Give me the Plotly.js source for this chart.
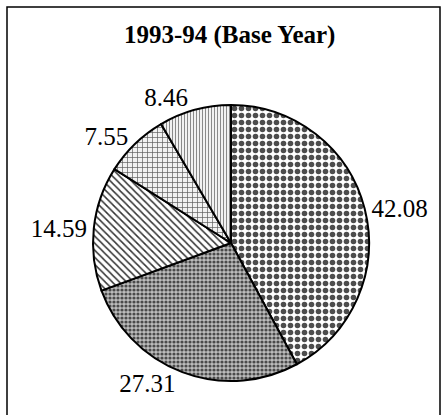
<!DOCTYPE html>
<html>
<head>
<meta charset="utf-8">
<script src="https://cdn.plot.ly/plotly-3.0.1.min.js"></script>
<style>
  body { margin: 0; padding: 0; background: #fff; }
  #plot { width: 446px; height: 415px; }
</style>
</head>
<body>
<div id="plot"></div>
<script>
// shares, clockwise from 12 o'clock
var labels = ["A", "B", "C", "D", "E"];
var values = [42.08, 27.31, 14.59, 7.55, 8.46];
var valueText = ["42.08", "27.31", "14.59", "7.55", "8.46"];

// black & white hatch fills, one per slice
var shapes = [".", ".", "\\", "+", "|"];
var fgs = ["#4d4d4d", "#4a4a4a", "#333333", "#5a5a5a", "#8a8a8a"];
var bgs = ["#ffffff", "#bdbdbd", "#ffffff", "#f2f2f2", "#f2f2f2"];
var sizes = [7, 4, 5, 5, 3];
var solid = [0.5, 0.5, 0.3, 0.25, 0.35];

var trace = {
  type: "pie",
  labels: labels,
  values: values,
  text: valueText,
  textinfo: "text",
  textposition: "outside",
  sort: false,
  direction: "clockwise",
  rotation: 0,
  hoverinfo: "none",
  showlegend: false,
  domain: {x: [0.2085, 0.8274], y: [0.082, 0.747]},
  outsidetextfont: {family: "Liberation Serif, Times New Roman, serif", size: 25, color: "#000"},
  marker: {
    colors: bgs,
    line: {color: "#000", width: 2},
    pattern: {shape: shapes, fgcolor: fgs, bgcolor: bgs, size: sizes, solidity: solid}
  }
};

var layout = {
  width: 446,
  height: 415,
  margin: {l: 0, r: 0, t: 0, b: 0},
  paper_bgcolor: "#fff",
  title: {
    text: "<b>1993-94 (Base Year)</b>",
    font: {family: "Liberation Serif, Times New Roman, serif", size: 25, color: "#000"},
    x: 0.515, xanchor: "center",
    y: 0.918, yanchor: "middle"
  },
  shapes: [{
    type: "rect", xref: "paper", yref: "paper",
    x0: 7 / 446, x1: 440 / 446, y0: -0.02, y1: 1 - 7 / 415,
    line: {color: "#000", width: 1.5}
  }]
};

Plotly.newPlot("plot", [trace], layout, {staticPlot: true});
</script>
</body>
</html>
